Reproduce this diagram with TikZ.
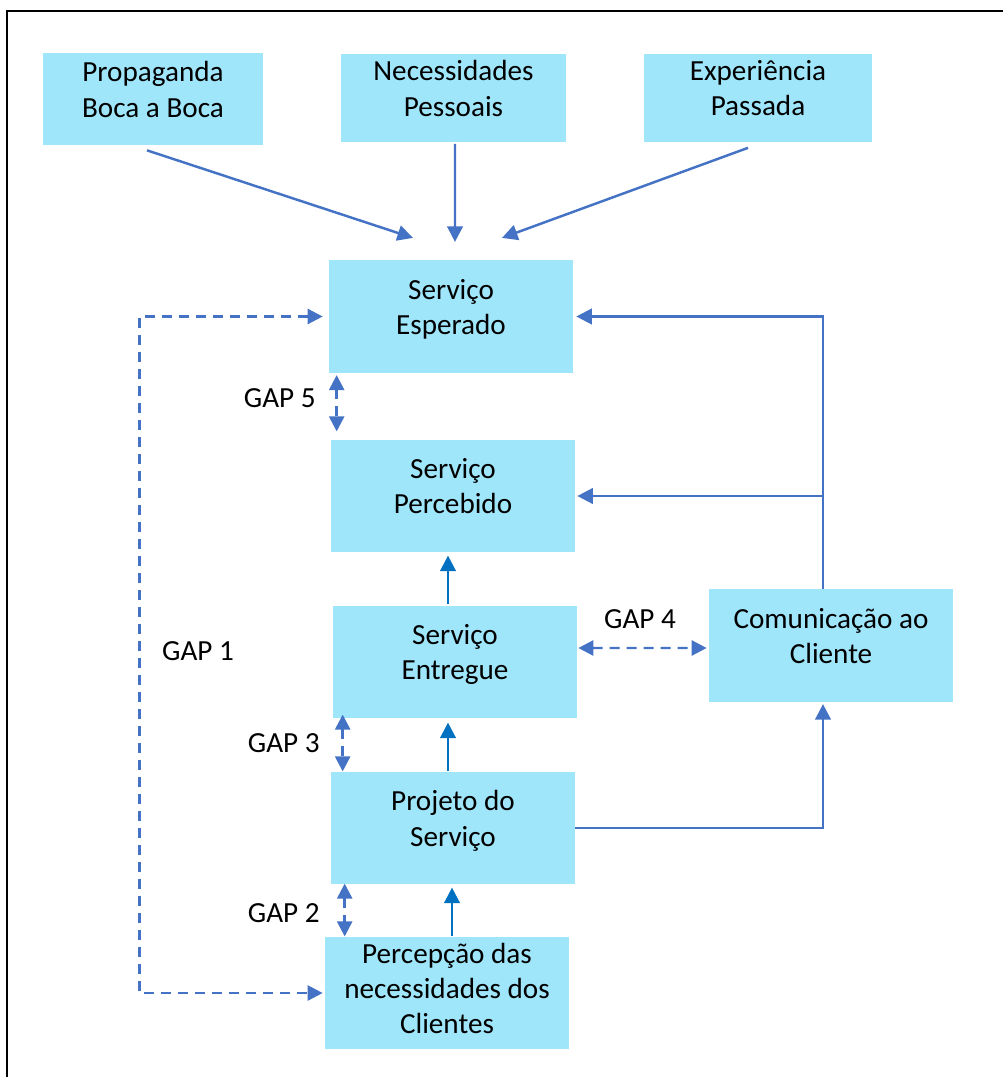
\documentclass[tikz,border=0pt]{standalone}
\usepackage{fontspec}
\setmainfont{Carlito}
\usetikzlibrary{arrows.meta}
\definecolor{boxfill}{HTML}{A0E6FB}
\definecolor{linkblue}{HTML}{4472C4}
\definecolor{flowblue}{HTML}{0070C0}
\begin{document}
\begin{tikzpicture}[x=0.02cm,y=-0.02cm,
  box/.style={fill=boxfill,minimum width=4.88cm,minimum height=2.25cm,align=center,
    font=\fontsize{16.6}{20}\selectfont,text depth=11pt,inner sep=0pt},
  topbox/.style={box,minimum height=1.78cm},
  link/.style={draw=linkblue,line width=1.4pt,-{Triangle[length=0.31cm,width=0.31cm]}},
  flow/.style={link,draw=flowblue},
  gap/.style={draw=linkblue,line width=1.4pt,dash pattern=on 0.2cm off 0.14cm,
    {Triangle[length=0.3cm,width=0.3cm]}-{Triangle[length=0.3cm,width=0.3cm]}},
  gaplabel/.style={font=\fontsize{16.6}{20}\selectfont,inner sep=0pt}
]
  \useasboundingbox (0,0) rectangle (1003,1077);
  \draw[line width=0.04cm] (7,1077) -- (7,11) -- (1003,11);

  \node[topbox,minimum width=4.4cm,minimum height=1.84cm] (boca) at (153,99) {Propaganda\\Boca a Boca};
  \node[topbox,minimum width=4.5cm] (pessoais) at (453.5,98) {Necessidades\\Pessoais};
  \node[topbox,minimum width=4.56cm] (passada) at (758,98) {Experiência\\Passada};
  \node[box] (esperado) at (451,316.5) {Serviço\\Esperado};
  \node[box] (percebido) at (453,496) {Serviço\\Percebido};
  \node[box] (entregue) at (455,662) {Serviço\\Entregue};
  \node[box] (comunic) at (831,645.5) {Comunicação ao\\Cliente};
  \node[box] (projeto) at (453,828) {Projeto do\\Serviço};
  \node[box,text depth=5pt] (necess) at (447,993) {Percepção das\\necessidades dos\\Clientes};

  \draw[link] ([shift={(-6,5)}]boca.south) -- ([shift={(-38,-22)}]esperado.north);
  \draw[link] ([shift={(1.5,1)}]pessoais.south) -- ([shift={(4,-18)}]esperado.north);
  \draw[link] ([shift={(-10,5)}]passada.south) -- ([shift={(51,-22)}]esperado.north);

  \draw[gap] ([shift={(-6,0)}]esperado.west) -- ++(-183,0) |- ([shift={(-2,0)}]necess.west);
  \node[gaplabel] (gap1) at (198,651) {GAP 1};

  \draw[gap] ([shift={(8,2)}]esperado.south west) -- ([shift={(6,-8)}]percebido.north west);
  \node[gaplabel,anchor=east] (gap5) at (316,398) {GAP 5};

  \coordinate (loop) at ([shift={(-8,0)}]comunic.north);
  \draw[link] (loop) |- ([shift={(3,0)}]esperado.east);
  \draw[link] (loop |- percebido.east) -- ([shift={(2,0)}]percebido.east);

  \draw[flow] ([shift={(-7,-1)}]entregue.north) -- ([shift={(-5,3)}]percebido.south);

  \draw[gap] ([shift={(1,-14)}]entregue.east) -- ([shift={(-2,2.5)}]comunic.west);
  \node[gaplabel] (gap4) at (640,619) {GAP 4};

  \draw[gap] ([shift={(10,-4)}]entregue.south west) -- ([shift={(12,0)}]projeto.north west);
  \node[gaplabel,anchor=east] (gap3) at (320,743) {GAP 3};

  \draw[flow] ([shift={(-5,0)}]projeto.north) -- ([shift={(-7,4)}]entregue.south);
  \draw[link] (projeto.east) -| ([shift={(-8,2)}]comunic.south);

  \draw[gap] ([shift={(14,-1)}]projeto.south west) -- ([shift={(20,0)}]necess.north west);
  \node[gaplabel,anchor=east] (gap2) at (320,913) {GAP 2};

  \draw[flow] ([shift={(5,0)}]necess.north) -- ([shift={(-1,3)}]projeto.south);
\end{tikzpicture}
\end{document}
